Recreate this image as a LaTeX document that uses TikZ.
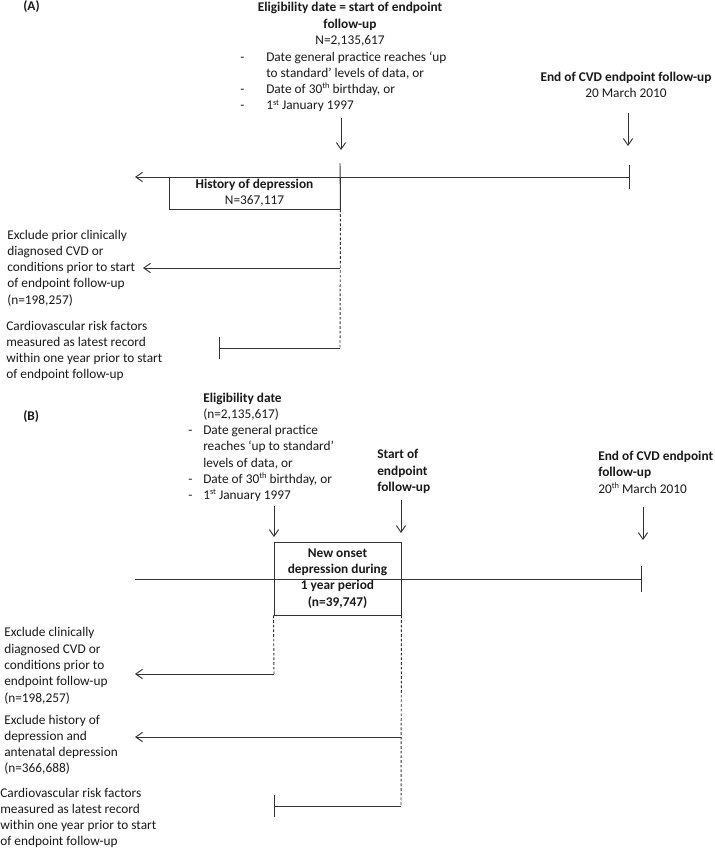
\documentclass[tikz,border=0pt]{standalone}
\usepackage{fontspec}
\setmainfont{Carlito}
\usetikzlibrary{arrows.meta}
\newcommand{\dsh}[1]{\makebox[#1][l]{-}}
\newcommand{\supr}[1]{\raisebox{0.75ex}{\fontsize{6.3}{6.3}\selectfont #1}}
\begin{document}
\begin{tikzpicture}[x=0.75pt,y=-0.75pt,
  txt/.style={font=\fontsize{10}{12.2}\selectfont, inner sep=0pt, align=left, text=black!90},
  btxt/.style={txt, font=\bfseries\fontsize{10}{12.2}\selectfont},
  ln/.style={draw=black!80, line width=0.7pt},
  arr/.style={ln, -{Straight Barb[length=5pt,width=7pt]}},
  dashln/.style={ln, dash pattern=on 2pt off 1.5pt},
  boxnode/.style={ln, draw, inner sep=0pt, align=center, text=black!90, font=\fontsize{10}{12.2}\selectfont}
]
\useasboundingbox (0,0) rectangle (714,849);

% ---------------- Part A ----------------
\node[btxt, anchor=base west] (labA) at (23,11) {(A)};
\node[txt, anchor=base, align=center] (eligA) at (350,44.5)
  {\textbf{Eligibility date = start of endpoint}\\\textbf{follow-up}\\N=2,135,617};
\node[txt, anchor=base west] (bulA) at (240,109.8)
  {\dsh{19.5pt}Date general practice reaches ‘up\\
   \hspace*{19.5pt}to standard’ levels of data, or\\
   \dsh{19.5pt}Date of 30\supr{th} birthday, or\\
   \dsh{19.5pt}1\supr{st} January 1997};
\node[txt, anchor=base, align=center] (endA) at (626,97.3)
  {\textbf{End of CVD endpoint follow-up}\\20 March 2010};

\coordinate (a1s) at (341,118); \coordinate (a1e) at (341,150);
\draw[arr] (a1s) -- (a1e);
\coordinate (a2s) at (628,113); \coordinate (a2e) at (628,146);
\draw[arr] (a2s) -- (a2e);

\node[boxnode, minimum width=128.25pt, minimum height=24pt] (hist) at (254.5,193)
  {\textbf{History of depression}\\N=367,117};

\coordinate (tAL) at (135,177); \coordinate (tAR) at (630,177);
\draw[ln, {Straight Barb[length=5pt,width=7pt]}-{Bar[width=18pt]}] (tAL) -- (tAR);
\coordinate (vAt) at (340,163);
\draw[ln] (vAt) -- (hist.south east);
\coordinate (vAb) at (340,348);
\draw[dashln] (hist.south east) -- (vAb);

\coordinate (exAs) at (340,268); \coordinate (exAe) at (143,268);
\draw[arr] (exAs) -- (exAe);
\coordinate (cvAe) at (219,348);
\draw[ln, -{Bar[width=17pt]}] (vAb) -- (cvAe);

\node[txt, anchor=base west] (exA) at (7,304.1)
  {Exclude prior clinically\\diagnosed CVD or\\conditions prior to start\\of endpoint follow-up\\(n=198,257)};
\node[txt, anchor=base west] (cvA) at (6,378.8)
  {Cardiovascular risk factors\\measured as latest record\\within one year prior to start\\of endpoint follow-up};

% ---------------- Part B ----------------
\node[btxt, anchor=base west] (labB) at (23,420) {(B)};
\node[txt, anchor=base west] (eligB) at (188,499.6)
  {\hspace*{11.25pt}\textbf{Eligibility date}\\
   \hspace*{11.25pt}(n=2,135,617)\\
   \dsh{11.25pt}Date general practice\\
   \hspace*{11.25pt}reaches ‘up to standard’\\
   \hspace*{11.25pt}levels of data, or\\
   \dsh{11.25pt}Date of 30\supr{th} birthday, or\\
   \dsh{11.25pt}1\supr{st} January 1997};
\node[btxt, anchor=base west] (startB) at (377,491.5)
  {Start of\\endpoint\\follow-up};
\node[txt, anchor=base west] (endB) at (598,493)
  {\textbf{End of CVD endpoint}\\\textbf{follow-up}\\20\supr{th} March 2010};

\coordinate (b1s) at (274,506); \coordinate (b1e) at (274,537);
\draw[arr] (b1s) -- (b1e);
\coordinate (b2s) at (401,500); \coordinate (b2e) at (401,533);
\draw[arr] (b2s) -- (b2e);
\coordinate (b3s) at (643,507); \coordinate (b3e) at (643,540);
\draw[arr] (b3s) -- (b3e);

\node[boxnode, font=\bfseries\fontsize{10}{12.2}\selectfont, minimum width=95.25pt, minimum height=54.75pt] (newB) at (337.5,578.5)
  {New onset\\depression during\\1 year period\\(n=39,747)};

\coordinate (tBL) at (135,579); \coordinate (tBR) at (642,579);
\draw[ln, -{Bar[width=19.5pt]}] (tBL) -- (tBR);

\coordinate (dB1) at (274,674); \coordinate (dB1e) at (135,674);
\draw[dashln] (newB.south west) -- (dB1);
\draw[arr] (dB1) -- (dB1e);
\coordinate (dB2) at (401,806);
\draw[dashln] (newB.south east) -- (dB2);
\coordinate (exB2s) at (401,737); \coordinate (exB2e) at (135,737);
\draw[arr] (exB2s) -- (exB2e);
\coordinate (cvBe) at (274,806);
\draw[ln, -{Bar[width=17pt]}] (dB2) -- (cvBe);

\node[txt, anchor=base west] (exB1) at (4,702)
  {Exclude clinically\\diagnosed CVD or\\conditions prior to\\endpoint follow-up\\(n=198,257)};
\node[txt, anchor=base west] (exB2) at (4,772.8)
  {Exclude history of\\depression and\\antenatal depression\\(n=366,688)};
\node[txt, anchor=base west] (cvB) at (0,845.8)
  {Cardiovascular risk factors\\measured as latest record\\within one year prior to start\\of endpoint follow-up};
\end{tikzpicture}
\end{document}
